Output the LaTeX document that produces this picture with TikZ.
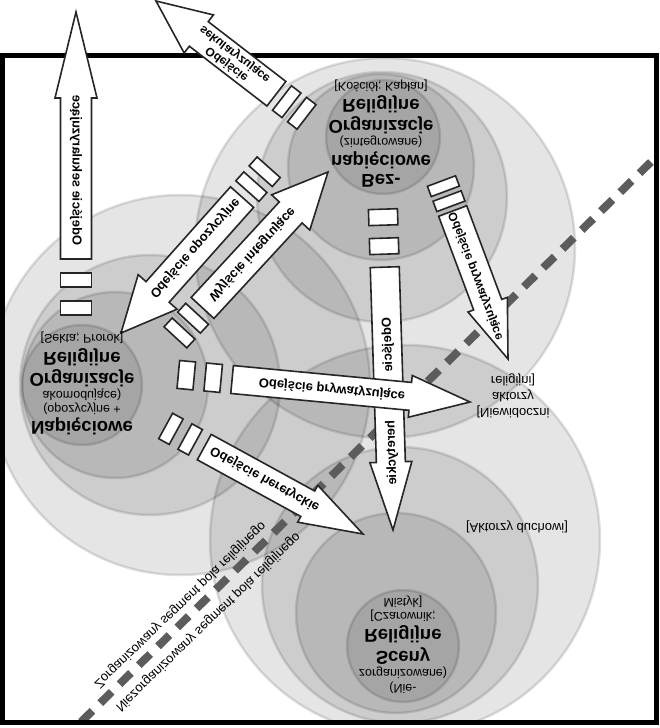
\documentclass[tikz,border=0pt]{standalone}
\usepackage{fontspec}
\setmainfont{Liberation Sans}
\newcommand\barrow[9]{%
  \begin{scope}[shift={(#1,#2)}, rotate=#3]
    \draw[abox] ({-#4},{-#5/2}) rectangle ({-#4+#8},{#5/2});
    \draw[abox] ({-#4+#8+#9},{-#5/2}) rectangle ({-#4+2*#8+#9},{#5/2});
    \draw[abox] ({-#4+2*#8+2*#9},{-#5/2}) -- ({-#7},{-#5/2}) -- ({-#7},{-#6}) -- (0,0) -- ({-#7},{#6}) -- ({-#7},{#5/2}) -- ({-#4+2*#8+2*#9},{#5/2}) -- cycle;
  \end{scope}}
\begin{document}
\begin{tikzpicture}[x=1pt,y=1pt,
  zone/.style={fill=black, fill opacity=0.1, draw=black, draw opacity=0.12, line width=2.5pt},
  abox/.style={draw=black!85, fill=white, line width=1.6pt, line join=miter},
  big/.style={font=\fontsize{18.5}{20}\selectfont\bfseries, inner sep=0pt},
  small/.style={font=\fontsize{12.5}{14}\selectfont, inner sep=0pt},
  albl/.style={font=\fontsize{13}{14}\selectfont\bfseries, inner sep=0pt, align=center},
  dashline/.style={line width=8pt, draw=black!64, dash pattern=on 16pt off 11pt}]
\begin{scope}[yscale=-1, transform shape]
\useasboundingbox (0,0) rectangle (660,728);
% zones
\begin{scope}
\clip (2,55) rectangle (656,722);
\fill[white] (2,55) rectangle (656,722);
% top cluster
\draw[zone] (385,248) circle (190);
\draw[zone] (382,197) circle (125);
\draw[zone] (381,167) circle (93);
\draw[zone] (383,137) circle (57);
% left cluster
\draw[zone] (180,385) circle (190);
\draw[zone] (150,385) circle (130);
\draw[zone] (115,385) circle (93);
\draw[zone] (82,385) circle (60);
% bottom cluster
\draw[zone] (405,540) circle (195);
\draw[zone] (400,585) circle (138);
\draw[zone] (396,613) circle (100);
\draw[zone] (403,646) circle (56);
\end{scope}
% dividing line
\coordinate (d1) at (81,722);
\coordinate (d2) at (656,157);
\draw[dashline] (d1) -- (d2);
\node[small, font=\fontsize{13}{14}\selectfont, rotate=-44] (z1) at (180,605) {Zorganizowany segment pola religijnego};
\node[small, font=\fontsize{13}{14}\selectfont, rotate=-44] (z2) at (208,622) {Niezorganizowany segment pola religijnego};
% frame
\draw[line width=5pt] (2,55) rectangle (656,722);
% arrows
\barrow{76}{12}{-90}{303}{31}{21}{86}{14}{14}
\node[albl, rotate=-90] (l1) at (76,170) {Odejście sekularyzujące};
\barrow{156}{1}{217.6}{190}{31}{24}{54}{12}{7}
\node[albl, font=\fontsize{12}{13}\selectfont\bfseries, rotate=37.6] (l2) at (231,59) {Odejście\\sekularyzujące};
\barrow{121}{333}{131.7}{222}{31}{26}{55}{12}{8}
\node[albl, rotate=-48.3] (l3) at (195,248) {Odejście opozycyjne};
\barrow{328}{172}{-47.3}{225}{31}{26}{55}{12}{8}
\node[albl, rotate=-47.3] (l4) at (252,254) {Wyjście integrujące};
\barrow{508}{359}{69.5}{190}{30}{21}{58}{11}{5}
\node[albl, font=\fontsize{12}{13}\selectfont\bfseries, rotate=69.5] (l5) at (476,276) {Odejście prywatyzujące};
\barrow{393}{530}{88.2}{321}{29}{21}{68}{16}{13}
\node[albl, rotate=88.2] (l6a) at (388,345) {Odejście};
\node[albl, rotate=88.2] (l6b) at (392,453) {heretyckie};
\barrow{470}{402}{5.4}{293}{28}{21}{60}{16}{11}
\node[albl, rotate=5.4] (l7) at (332,389) {Odejście prywatyzujące};
\barrow{363}{534}{28.7}{225}{29}{21}{63}{12}{10}
\node[albl, rotate=28.7] (l8) at (265,479) {Odejście heretyckie};
% cluster labels
\node[small] (a0) at (381,86) {[Kościół; Kapłan]};
\node[big] (a1) at (381,104) {Religijne};
\node[big] (a2) at (381,125) {Organizacje};
\node[small] (a3) at (381,142) {(zintegrowane)};
\node[big] (a4) at (381,160) {napięciowe};
\node[big] (a5) at (381,181) {Bez-};
\node[small] (b0) at (82,338) {[Sekta; Prorok]};
\node[big] (b1) at (82,357) {Religijne};
\node[big] (b2) at (82,378) {Organizacje};
\node[small] (b3) at (82,395) {akomodujące)};
\node[small] (b4) at (82,409) {(opozycyjne +};
\node[big] (b5) at (82,426) {Napięciowe};
\node[small] (c0) at (403,602) {Mistyk]};
\node[small] (c1) at (403,616) {[Czarownik;};
\node[big] (c2) at (403,634) {Religijne};
\node[big] (c3) at (403,656) {Sceny};
\node[small] (c4) at (403,673) {zorganizowane)};
\node[small] (c5) at (403,688) {(Nie-};
\node[small, font=\fontsize{13}{14}\selectfont] (n0) at (513,380) {religijni]};
\node[small, font=\fontsize{13}{14}\selectfont] (n1) at (513,396) {aktorzy};
\node[small, font=\fontsize{13}{14}\selectfont] (n2) at (513,412) {[Niewidoczni};
\node[small, font=\fontsize{13}{14}\selectfont] (s0) at (517,527) {[Aktorzy duchowi]};
\end{scope}
\end{tikzpicture}
\end{document}
